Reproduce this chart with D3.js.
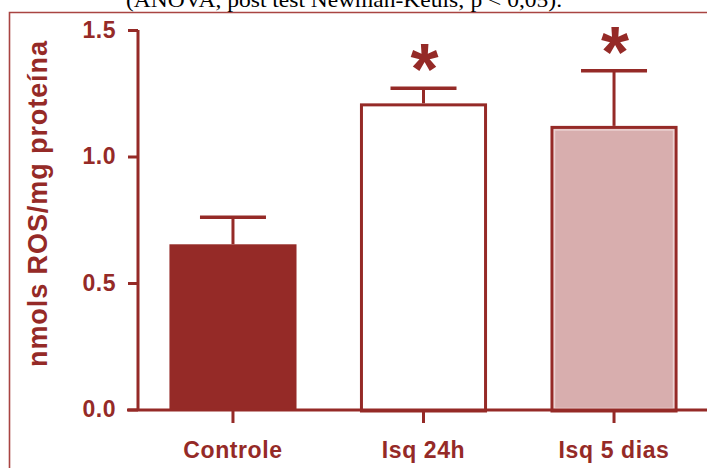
<!DOCTYPE html>
<html><head><meta charset="utf-8">
<script src="https://cdn.jsdelivr.net/npm/d3@7"></script>
<style>html,body{margin:0;padding:0;background:#fff;}svg{display:block;}</style>
</head><body>
<svg id="chart" width="707" height="468"></svg>
<script>
const categories = ["Controle", "Isq 24h", "Isq 5 dias"];
const means = [0.653, 1.210, 1.121];
const sems = [0.107, 0.060, 0.218];
const significant = [false, true, true];
const yTicks = [0.0, 0.5, 1.0, 1.5];
const yTitle = "nmols ROS/mg proteína";
const caption = "(ANOVA, post test Newman-Keuls; p < 0,05).";

const red = "#952a27";
const fills = ["#952a27", "#ffffff", "#d8aeae"];
const sans = "Liberation Sans, Arial, Helvetica, sans-serif";

const svg = d3.select("#chart");

// frame
svg.append("path").attr("d", "M9.5,475 L9.5,12.5 L720,12.5")
  .attr("fill", "none").attr("stroke", "#a94442").attr("stroke-width", 1.6);

// caption (partially cut off at top, as in the source)
svg.append("text").attr("x", 126).attr("y", 6.5)
  .attr("font-family", "Liberation Serif, serif").attr("font-size", 21)
  .attr("textLength", 436).attr("lengthAdjust", "spacingAndGlyphs")
  .attr("fill", "#000").text(caption);

const x = d3.scaleBand().domain(categories).range([138, 709]).paddingInner(0.333).paddingOuter(0.165);
const y = d3.scaleLinear().domain([0, 1.5]).range([409.5, 30]);

// bars
const bw = x.bandwidth();
categories.forEach((c, i) => {
  const x0 = x(c), top = y(means[i]);
  if (i === 0) {
    svg.append("rect").attr("x", x0).attr("y", top).attr("width", bw).attr("height", y(0) - top)
      .attr("fill", fills[i]);
  } else {
    svg.append("rect").attr("x", x0 + 1.5).attr("y", top + 1.5).attr("width", bw - 3).attr("height", y(0) - top)
      .attr("fill", fills[i]).attr("stroke", red).attr("stroke-width", 3);
    if (i === 2) {
      svg.append("rect").attr("x", x0 + 4).attr("y", top + 4).attr("width", bw - 8).attr("height", y(0) - top - 5)
        .attr("fill", "none").attr("stroke", "#ecd3d3").attr("stroke-width", 1.5);
    }
  }
  // error bar
  const cx = x0 + bw / 2;
  const et = y(means[i] + sems[i]);
  svg.append("line").attr("x1", cx).attr("x2", cx).attr("y1", top).attr("y2", et)
    .attr("stroke", red).attr("stroke-width", 3);
  svg.append("line").attr("x1", cx - 33).attr("x2", cx + 33).attr("y1", et).attr("y2", et)
    .attr("stroke", red).attr("stroke-width", 3.5);
  if (significant[i]) {
    svg.append("text").attr("x", cx + 1).attr("y", et + 6)
      .attr("text-anchor", "middle").attr("font-family", sans)
      .attr("font-weight", "bold").attr("font-size", 72).attr("fill", red)
      .text("*");
  }
});

// y axis
const yAxis = d3.axisLeft(y).tickValues(yTicks).tickFormat(d3.format(".1f")).tickSize(10).tickPadding(12);
const gy = svg.append("g").attr("transform", "translate(138,0)").call(yAxis);
gy.select(".domain").attr("d", "M0,30V410").attr("stroke", red).attr("stroke-width", 3);
gy.selectAll(".tick line").attr("stroke", red).attr("stroke-width", 3);
gy.selectAll(".tick text").attr("fill", red).attr("font-family", sans)
  .attr("font-weight", "bold").attr("font-size", 23).attr("letter-spacing", 0.5);

// x axis
const xAxis = d3.axisBottom(x).tickSize(13).tickPadding(10);
const gx = svg.append("g").attr("transform", "translate(0,410)").call(xAxis);
gx.select(".domain").attr("d", "M127,0H707").attr("stroke", red).attr("stroke-width", 3);
gx.selectAll(".tick line").attr("stroke", red).attr("stroke-width", 3);
gx.selectAll(".tick text").attr("fill", red).attr("font-family", sans)
  .attr("font-weight", "bold").attr("font-size", 23).attr("letter-spacing", 0.6)
  .attr("dy", null).attr("y", 48);

// y title
svg.append("text").attr("transform", "translate(47,204) rotate(-90)")
  .attr("text-anchor", "middle").attr("fill", red)
  .attr("font-family", sans).attr("font-weight", "bold").attr("font-size", 27)
  .attr("textLength", 326).attr("lengthAdjust", "spacing")
  .text(yTitle);
</script>
</body></html>
